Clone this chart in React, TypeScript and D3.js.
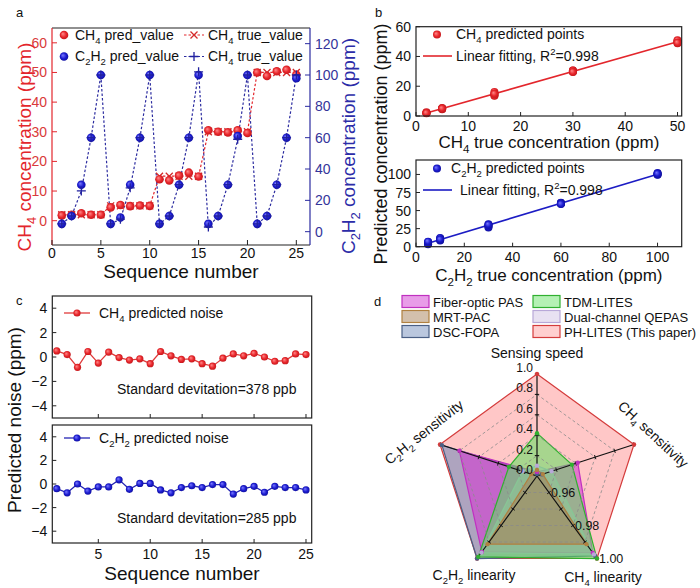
import React from "react";
import * as d3 from "d3";

const FONT = '"Liberation Sans", Arial, Helvetica, sans-serif';

// ---- panel a / b data ----
const sequence = [1, 2, 3, 4, 5, 6, 7, 8, 9, 10, 11, 12, 13, 14, 15, 16, 17, 18, 19, 20, 21, 22, 23, 24, 25];
const ch4True = [2, 2, 2, 2, 2, 5, 5, 5, 5, 5, 15, 15, 15, 15, 15, 30, 30, 30, 30, 30, 50, 50, 50, 50, 50];
const ch4Pred = [1.8, 2.0, 2.5, 2.0, 2.0, 4.5, 5.3, 4.9, 5.1, 5.0, 14.0, 13.6, 15.2, 16.2, 14.9, 30.5, 30.0, 29.8, 30.5, 29.6, 50.0, 48.8, 50.4, 50.9, 49.2];
const c2h2True = [5, 10, 30, 60, 100, 5, 10, 30, 60, 100, 5, 10, 30, 60, 100, 5, 10, 30, 60, 100, 5, 10, 30, 60, 100];
const c2h2Marked = [5, 10, 26, 60, 100, 5, 8, 28, 60, 100, 5, 10, 30, 60, 102, 3, 10, 30, 59, 100, 5, 10, 30, 60, 100];
const c2h2Pred = [5, 10, 30, 60, 100, 5, 9, 30, 60, 100, 5, 10, 30, 60, 100, 5, 10, 30, 61, 100, 5, 10, 30, 60, 98];
const c2h2PredFit = [6.5, 9.5, 31, 60.5, 101, 3.5, 11.5, 26.5, 59.5, 100, 5, 8.5, 29.5, 61, 102, 4, 12, 28, 60, 99.5, 7, 10, 30.5, 59, 101];

const aLeftTicks = [0, 10, 20, 30, 40, 50, 60];
const aRightTicks = [0, 20, 40, 60, 80, 100, 120];
const aXTicks = [0, 5, 10, 15, 20, 25];
const bTopYTicks = [0, 20, 40, 60];
const bTopXTicks = [0, 10, 20, 30, 40, 50];
const bBotYTicks = [0, 25, 50, 75, 100];
const bBotXTicks = [0, 20, 40, 60, 80, 100];

// ---- panel c data ----
const ch4Noise = [0.5, 0.2, -0.85, 0.45, -0.5, 0.4, -0.05, -0.25, -0.15, -0.55, 0.45, 0.1, -0.2, -0.15, -0.55, -0.75, -0.1, 0.25, 0.1, 0.3, 0.0, -0.35, -0.3, 0.25, 0.2];
const c2h2Noise = [-0.4, -0.75, 0.0, -0.6, -0.25, -0.25, 0.35, -0.45, 0.05, 0.05, -0.5, -0.75, -0.3, -0.15, -0.3, -0.05, -0.05, -0.85, -0.4, -0.2, -0.7, -0.2, -0.3, -0.3, -0.5];
const cYTicks = [-4, -2, 0, 2, 4];
const cXTicks = [5, 10, 15, 20, 25];

// ---- panel d data ----
const radarAxes = ["Sensing speed", "CH_4 sensitivity", "CH_4 linearity", "C_2H_2 linearity", "C_2H_2 sensitivity"];
const methods = ["Fiber-optic PAS", "MRT-PAC", "DSC-FOPA", "TDM-LITES", "Dual-channel QEPAS", "PH-LITES (This paper)"];
const speedVals = [0.04, 0.06, 0.02, 0.42, 0.1, 1.0];
const ch4SensVals = [0.42, 0.06, 0.05, 0.36, 0.15, 1.0];
const ch4LinVals = [0.9965, 0.9913, 0.9985, 1.0, 0.9975, 1.0];
const c2h2LinVals = [0.996, 0.9913, 1.0, 0.999, 0.9964, 1.0];
const c2h2SensVals = [0.8, 0.06, 0.98, 0.29, 0.15, 1.0];
const methodFill = ["#d23cd2", "#a8845c", "#6b86b8", "#5fe05f", "#c8b8e0", "#ff9999"];
const methodStroke = ["#c030c0", "#b08040", "#4a5f85", "#30b030", "#b8a8d8", "#d43c3c"];
const methodOpacity = [0.6, 0.6, 0.55, 0.55, 0.5, 0.55];
const drawOrder = [5, 2, 0, 4, 3, 1];
const sensTicks = [0, 0.2, 0.4, 0.6, 0.8, 1.0];
const linTicks = [0.96, 0.98, 1.0];

const RED = "#e3262c";
const BLUE = "#1c1cc4";

// "CH_4" -> subscript 4, "R^2" -> superscript 2
function rich(s: string, fs: number) {
  const out: React.ReactNode[] = [];
  const re = /([_^])(\d)/g;
  let last = 0;
  let shift = 0;
  let k = 0;
  let m: RegExpExecArray | null;
  while ((m = re.exec(s))) {
    if (m.index > last) {
      out.push(<tspan key={k++} dy={-shift} fontSize={fs}>{s.slice(last, m.index)}</tspan>);
      shift = 0;
    }
    const d = m[1] === "_" ? fs * 0.28 : -fs * 0.42;
    out.push(<tspan key={k++} dy={d - shift} fontSize={fs * 0.68}>{m[2]}</tspan>);
    shift = d;
    last = re.lastIndex;
  }
  if (last < s.length) out.push(<tspan key={k++} dy={-shift} fontSize={fs}>{s.slice(last)}</tspan>);
  return out;
}

type Lin = d3.ScaleLinear<number, number>;

const Ball = ({ cx, cy, r, id }: { cx: number; cy: number; r: number; id: string }) => (
  <circle cx={cx} cy={cy} r={r} fill={`url(#${id})`} />
);

const XMark = ({ x, y, c, s = 3.5 }: { x: number; y: number; c: string; s?: number }) => (
  <path d={`M${x - s},${y - s}L${x + s},${y + s}M${x - s},${y + s}L${x + s},${y - s}`} stroke={c} strokeWidth={1.3} />
);
const PlusMark = ({ x, y, c, s = 4.5 }: { x: number; y: number; c: string; s?: number }) => (
  <path d={`M${x - s},${y}L${x + s},${y}M${x},${y - s}L${x},${y + s}`} stroke={c} strokeWidth={1.3} />
);

function PanelA() {
  const x = d3.scaleLinear().domain([0, 26.4]).range([52, 310]);
  const yL = d3.scaleLinear().domain([-8.2, 65]).range([245, 28]);
  const yR = d3.scaleLinear().domain([-8.5, 130]).range([245, 28]);
  const path = (vals: number[], y: Lin) =>
    d3.line<number>().x((_, i) => x(sequence[i])).y((d) => y(d))(vals) || "";
  const [x0, x1] = x.range();
  const [yb, yt] = yL.range();
  return (
    <g>
      <text x={16} y={17} fontSize={13}>a</text>
      <path d={path(ch4True, yL)} fill="none" stroke={RED} strokeWidth={1.2} strokeDasharray="2.5,2" />
      <path d={path(c2h2Marked, yR)} fill="none" stroke="#2c2ca0" strokeWidth={1.2} strokeDasharray="2.5,2" />
      {ch4True.map((v, i) => <XMark key={"xt" + i} x={x(sequence[i])} y={yL(v)} c="#d42a2a" />)}
      {ch4Pred.map((v, i) => <Ball key={"cp" + i} cx={x(sequence[i])} cy={yL(v)} r={4.3} id="gRed" />)}
      {c2h2Pred.map((v, i) => <Ball key={"bp" + i} cx={x(sequence[i])} cy={yR(v)} r={4.3} id="gBlue" />)}
      {c2h2Marked.map((v, i) => <PlusMark key={"pt" + i} x={x(sequence[i])} y={yR(v)} c="#2020a0" />)}
      {/* frame */}
      <line x1={x0} x2={x1} y1={yt} y2={yt} stroke="#222" strokeWidth={1.2} />
      <line x1={x0} x2={x1} y1={yb} y2={yb} stroke="#222" strokeWidth={1.2} />
      <line x1={x0} x2={x0} y1={yt} y2={yb} stroke={RED} strokeWidth={1.2} />
      <line x1={x1} x2={x1} y1={yt} y2={yb} stroke="#2a2aa0" strokeWidth={1.2} />
      {aXTicks.map((t) => (
        <g key={"ax" + t}>
          <line x1={x(t)} x2={x(t)} y1={yb} y2={yb - 5} stroke="#222" />
          <text x={x(t)} y={258} textAnchor="middle" fontSize={14}>{t}</text>
        </g>
      ))}
      {aLeftTicks.map((t) => (
        <g key={"al" + t}>
          <line x1={x0} x2={x0 + 5} y1={yL(t)} y2={yL(t)} stroke={RED} />
          <text x={x0 - 5} y={yL(t) + 5} textAnchor="end" fontSize={14} fill="#d93a3a">{t}</text>
        </g>
      ))}
      {aRightTicks.map((t) => (
        <g key={"ar" + t}>
          <line x1={x1} x2={x1 - 5} y1={yR(t)} y2={yR(t)} stroke="#2a2aa0" />
          <text x={x1 + 5} y={yR(t) + 5} textAnchor="start" fontSize={14} fill="#34349a">{t}</text>
        </g>
      ))}
      <text x={181} y={278} textAnchor="middle" fontSize={19}>Sequence number</text>
      <text transform="translate(31,147) rotate(-90)" textAnchor="middle" fill={RED}>{rich("CH_4 concentration (ppm)", 19)}</text>
      <text transform="translate(355,146) rotate(-90)" textAnchor="middle" fill="#2c2ca8">{rich("C_2H_2 concentration (ppm)", 19)}</text>
      {/* legend */}
      <Ball cx={64} cy={35} r={4.3} id="gRed" />
      <text x={75} y={40}>{rich("CH_4  pred_value", 14)}</text>
      <Ball cx={64} cy={56.5} r={4.3} id="gBlue" />
      <text x={75} y={61}>{rich("C_2H_2 pred_value", 14)}</text>
      <line x1={184} x2={204} y1={35} y2={35} stroke={RED} strokeWidth={1.2} strokeDasharray="2.5,2" />
      <XMark x={194} y={35} c="#d42a2a" />
      <text x={208} y={40}>{rich("CH_4  true_value", 14)}</text>
      <line x1={184} x2={204} y1={56.5} y2={56.5} stroke="#2c2ca0" strokeWidth={1.2} strokeDasharray="2.5,2" />
      <PlusMark x={194} y={56.5} c="#2020a0" />
      <text x={208} y={61}>{rich("CH_4  true_value", 14)}</text>
    </g>
  );
}

function fitLine(xs: number[], ys: number[]) {
  const mx = d3.mean(xs) as number;
  const my = d3.mean(ys) as number;
  const sxy = d3.sum(xs, (v, i) => (v - mx) * (ys[i] - my));
  const sxx = d3.sum(xs, (v) => (v - mx) * (v - mx));
  const k = sxy / sxx;
  return (v: number) => my + k * (v - mx);
}

function Subplot({ x, y, xt, yt, title, titleY }: { x: Lin; y: Lin; xt: number[]; yt: number[]; title: string; titleY: number }) {
  const [x0, x1] = x.range();
  const [yb, ytop] = y.range();
  return (
    <g>
      <rect x={x0} y={ytop} width={x1 - x0} height={yb - ytop} fill="none" stroke="#222" strokeWidth={1.2} />
      {xt.map((t) => (
        <g key={"x" + t}>
          <line x1={x(t)} x2={x(t)} y1={yb} y2={yb - 4} stroke="#222" />
          <text x={x(t)} y={yb + 15} textAnchor="middle" fontSize={14}>{t}</text>
        </g>
      ))}
      {yt.map((t) => (
        <g key={"y" + t}>
          <line x1={x0} x2={x0 + 4} y1={y(t)} y2={y(t)} stroke="#222" />
          <text x={x0 - 5} y={y(t) + 5} textAnchor="end" fontSize={14}>{t}</text>
        </g>
      ))}
      <text x={(x0 + x1) / 2} y={titleY} textAnchor="middle">{rich(title, 17)}</text>
    </g>
  );
}

function PanelB() {
  const xT = d3.scaleLinear().domain([0, 50.8]).range([416, 681.7]);
  const yT = d3.scaleLinear().domain([0, 60]).range([116, 26.7]);
  const xB = d3.scaleLinear().domain([0, 110]).range([416, 681.7]);
  const yB = d3.scaleLinear().domain([0, 120]).range([246.7, 160]);
  const fT = fitLine(ch4True, ch4Pred);
  const fB = fitLine(c2h2True, c2h2PredFit);
  const [a0, a1] = d3.extent(ch4True) as [number, number];
  const [b0, b1] = d3.extent(c2h2True) as [number, number];
  return (
    <g>
      <text x={375} y={17} fontSize={13}>b</text>
      <line x1={xT(a0)} y1={yT(fT(a0))} x2={xT(a1)} y2={yT(fT(a1))} stroke={RED} strokeWidth={1.6} />
      {ch4Pred.map((v, i) => <Ball key={"t" + i} cx={xT(ch4True[i])} cy={yT(v)} r={4} id="gRed" />)}
      <line x1={xB(b0)} y1={yB(fB(b0))} x2={xB(b1)} y2={yB(fB(b1))} stroke={BLUE} strokeWidth={1.6} />
      {c2h2PredFit.map((v, i) => <Ball key={"b" + i} cx={xB(c2h2True[i])} cy={yB(v)} r={4} id="gBlue" />)}
      <Subplot x={xT} y={yT} xt={bTopXTicks} yt={bTopYTicks} title="CH_4  true concentration (ppm)" titleY={148} />
      <Subplot x={xB} y={yB} xt={bBotXTicks} yt={bBotYTicks} title="C_2H_2  true concentration (ppm)" titleY={281} />
      <text transform="translate(387,144) rotate(-90)" textAnchor="middle" fontSize={18}>Predicted concentration (ppm)</text>
      {/* legends */}
      <Ball cx={437} cy={34.5} r={4} id="gRed" />
      <text x={456} y={39}>{rich("CH_4 predicted points", 14)}</text>
      <line x1={423} x2={452} y1={56} y2={56} stroke={RED} strokeWidth={1.6} />
      <text x={456} y={61}>{rich("Linear fitting, R^2=0.998", 14)}</text>
      <Ball cx={437} cy={168.5} r={4} id="gBlue" />
      <text x={451} y={173}>{rich("C_2H_2 predicted points", 14)}</text>
      <line x1={423} x2={452} y1={190} y2={190} stroke={BLUE} strokeWidth={1.6} />
      <text x={460} y={195}>{rich("Linear fitting, R^2=0.998", 14)}</text>
    </g>
  );
}

function NoisePlot({ y, vals, color, id, legend, legendY, sd, sdY, x }: { y: Lin; vals: number[]; color: string; id: string; legend: string; legendY: number; sd: string; sdY: number; x: Lin }) {
  const [x0, x1] = x.range();
  const [yb, yt] = y.range();
  const p = d3.line<number>().x((_, i) => x(sequence[i])).y((d) => y(d))(vals) || "";
  return (
    <g>
      <path d={p} fill="none" stroke={color} strokeWidth={1.3} />
      {vals.map((v, i) => <Ball key={i} cx={x(sequence[i])} cy={y(v)} r={3.6} id={id} />)}
      <rect x={x0} y={yt} width={x1 - x0} height={yb - yt} fill="none" stroke="#222" strokeWidth={1.2} />
      {cXTicks.map((t) => <line key={"x" + t} x1={x(t)} x2={x(t)} y1={yb} y2={yb - 4} stroke="#222" />)}
      {cYTicks.map((t) => (
        <g key={"y" + t}>
          <line x1={x0} x2={x0 + 4} y1={y(t)} y2={y(t)} stroke="#222" />
          <text x={x0 - 5} y={y(t) + 5} textAnchor="end" fontSize={14}>{t === 0 ? "0" : t < 0 ? "\u2212" + -t : t}</text>
        </g>
      ))}
      <line x1={64} x2={90} y1={legendY} y2={legendY} stroke={color} strokeWidth={1.3} />
      <Ball cx={77} cy={legendY} r={3.6} id={id} />
      <text x={99} y={legendY + 5}>{rich(legend, 14)}</text>
      <text x={117} y={sdY} fontSize={14}>{sd}</text>
    </g>
  );
}

function PanelC() {
  const x = d3.scaleLinear().domain([0.57, 25.55]).range([52.3, 311.7]);
  const yT = d3.scaleLinear().domain([-5, 5]).range([418, 296]);
  const yB = d3.scaleLinear().domain([-5, 5]).range([543, 425]);
  return (
    <g>
      <text x={16} y={305} fontSize={13}>c</text>
      <NoisePlot x={x} y={yT} vals={ch4Noise} color="#e03a3a" id="gRed" legend="CH_4 predicted noise" legendY={313} sd="Standard devitation=378 ppb" sdY={394} />
      <NoisePlot x={x} y={yB} vals={c2h2Noise} color="#2424b4" id="gBlue" legend="C_2H_2 predicted noise" legendY={438} sd="Standard devitation=285 ppb" sdY={523} />
      {cXTicks.map((t) => (
        <text key={t} x={x(t)} y={559} textAnchor="middle" fontSize={14}>{t}</text>
      ))}
      <text x={182} y={580} textAnchor="middle" fontSize={19}>Sequence number</text>
      <text transform="translate(21,420) rotate(-90)" textAnchor="middle" fontSize={19}>Predicted noise (ppm)</text>
    </g>
  );
}

function PanelD() {
  const cx = 537;
  const cy = 476;
  const R = 102;
  const rSens = d3.scaleLinear().domain([0, 1]).range([0, R]);
  const rLin = d3.scaleLinear().domain([0.95, 1]).range([0, R]);
  const scales = [rSens, rSens, rLin, rLin, rSens];
  const ang = (i: number) => (i * 2 * Math.PI) / radarAxes.length;
  const pt = (i: number, r: number): [number, number] => [cx + r * Math.sin(ang(i)), cy - r * Math.cos(ang(i))];
  const series = methods.map((_, m) => [speedVals[m], ch4SensVals[m], ch4LinVals[m], c2h2LinVals[m], c2h2SensVals[m]]);
  const poly = (pts: [number, number][]) => (d3.line().curve(d3.curveLinearClosed)(pts) || "");
  const legendRows = [0, 1, 2];
  return (
    <g>
      <text x={374} y={306} fontSize={13}>d</text>
      {methods.map((name, m) => {
        const col = m < 3 ? 0 : 1;
        const row = legendRows[m % 3];
        const bx = col === 0 ? 402 : 533;
        const by = 295.5 + row * 15;
        return (
          <g key={name}>
            <rect x={bx} y={by} width={27} height={12} fill={methodFill[m]} fillOpacity={methodOpacity[m] * 0.85} stroke={methodStroke[m]} strokeWidth={1.2} />
            <text x={bx + 31} y={by + 11} fontSize={13}>{name}</text>
          </g>
        );
      })}
      {drawOrder.map((m) => {
        const pts = series[m].map((v, i) => pt(i, Math.max(0, scales[i](v))));
        return (
          <g key={"s" + m}>
            <path d={poly(pts)} fill={methodFill[m]} fillOpacity={methodOpacity[m]} stroke={methodStroke[m]} strokeWidth={1.2} />
          </g>
        );
      })}
      {[0.2, 0.4, 0.6, 0.8].map((f) => (
        <path key={"g" + f} d={poly(radarAxes.map((_, i) => pt(i, f * R)))} fill="none" stroke="#8a8a8a" strokeWidth={0.8} strokeDasharray="3,2.5" />
      ))}
      {radarAxes.map((_, i) => {
        const [ex, ey] = pt(i, R);
        const a = ang(i);
        return (
          <g key={"ax" + i}>
            <line x1={cx} y1={cy} x2={ex} y2={ey} stroke="#111" strokeWidth={1.2} />
            {sensTicks.slice(1).map((f) => {
              const [tx, ty] = pt(i, f * R);
              const dx = Math.cos(a) * 2.2;
              const dy = Math.sin(a) * 2.2;
              return <line key={f} x1={tx - dx} y1={ty - dy} x2={tx + dx} y2={ty + dy} stroke="#111" strokeWidth={1} />;
            })}
          </g>
        );
      })}
      {drawOrder.map((m) =>
        series[m].map((v, i) => {
          const [px, py] = pt(i, Math.max(0, scales[i](v)));
          return <circle key={"p" + m + i} cx={px} cy={py} r={2.2} fill={methodStroke[m]} />;
        })
      )}
      {sensTicks.map((t) => (
        <text key={"st" + t} x={533} y={cy - rSens(t) - 2} textAnchor="end" fontSize={12}>{t.toFixed(1)}</text>
      ))}
      {linTicks.map((t) => {
        const [tx, ty] = pt(2, rLin(t));
        return <text key={"lt" + t} x={tx + 2} y={ty + 4} fontSize={12.5}>{t.toFixed(2)}</text>;
      })}
      <text x={cx} y={358} textAnchor="middle">{rich(radarAxes[0], 14)}</text>
      <text transform="translate(650,438) rotate(43)" textAnchor="middle" dy={5}>{rich(radarAxes[1], 14)}</text>
      <text x={603} y={582} textAnchor="middle">{rich(radarAxes[2], 14)}</text>
      <text x={474} y={580} textAnchor="middle">{rich(radarAxes[3], 14)}</text>
      <text transform="translate(427,436) rotate(-38)" textAnchor="middle" dy={5}>{rich(radarAxes[4], 14)}</text>
    </g>
  );
}

export default function App() {
  return (
    <svg width={700} height={588} viewBox="0 0 700 588" style={{ position: "absolute", left: 0, top: 0, background: "#fff" }} fontFamily={FONT} fill="#111">
      <defs>
        <radialGradient id="gRed" cx="0.5" cy="0.5" r="0.6" fx="0.35" fy="0.35">
          <stop offset="0" stopColor="#ff8a8a" />
          <stop offset="0.55" stopColor="#e8262b" />
          <stop offset="1" stopColor="#b81418" />
        </radialGradient>
        <radialGradient id="gBlue" cx="0.5" cy="0.5" r="0.6" fx="0.35" fy="0.35">
          <stop offset="0" stopColor="#7a7aff" />
          <stop offset="0.55" stopColor="#1c1cd0" />
          <stop offset="1" stopColor="#0c0c90" />
        </radialGradient>
      </defs>
      <rect width={700} height={588} fill="#fff" />
      <PanelA />
      <PanelB />
      <PanelC />
      <PanelD />
    </svg>
  );
}
